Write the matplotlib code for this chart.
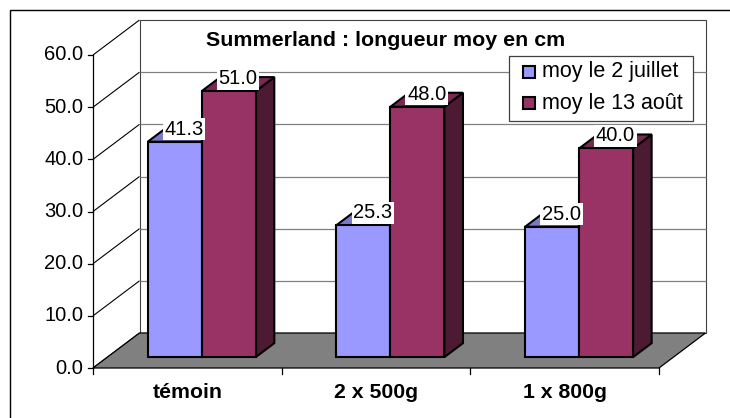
import matplotlib
matplotlib.use('Agg')
import matplotlib.pyplot as plt
from matplotlib.patches import Polygon, Rectangle

# donnees
categories = ['témoin', '2 x 500g', '1 x 800g']
series_names = ['moy le 2 juillet', 'moy le 13 août']
moy_juillet = [41.3, 25.3, 25.0]
moy_aout = [51.0, 48.0, 40.0]
y_ticks = [0, 10, 20, 30, 40, 50, 60]
title = 'Summerland : longueur moy en cm'

plt.rcParams['font.family'] = ['Liberation Sans', 'DejaVu Sans']

W, H = 730, 418
fig = plt.figure(figsize=(W / 100, H / 100), dpi=100)
ax = fig.add_axes([0, 0, 1, 1])
ax.axis('off')

# plan avant en pixels
x0_px, x1_px = 93, 659
y0_px, ytop_px = 368, 55
n = len(categories)
vmax = y_ticks[-1]
px_cat = (x1_px - x0_px) / n
px_val = (y0_px - ytop_px) / vmax
ax.set_xlim(-x0_px / px_cat, (W - x0_px) / px_cat)
ax.set_ylim(-(H - y0_px) / px_val, y0_px / px_val)

# profondeur (effet 3D)
DX = 46.5 / px_cat
DY = 35.0 / px_val


def P(x, y, d):
    return (x + d * DX, y + d * DY)


def poly(pts, fc, ec='black', lw=1.0, z=1):
    ax.add_patch(Polygon(pts, closed=True, facecolor=fc, edgecolor=ec,
                         linewidth=lw, joinstyle='miter', zorder=z))


def line(a, b, color='black', lw=0.8, z=2):
    ax.plot([a[0], b[0]], [a[1], b[1]], color=color, lw=lw, zorder=z,
            solid_capstyle='butt')


# mur du fond
poly([P(0, 0, 1), P(n, 0, 1), P(n, vmax, 1), P(0, vmax, 1)], 'white',
     ec='#404040', lw=0.8, z=1)
for v in y_ticks[1:-1]:
    line(P(0, v, 1), P(n, v, 1), color='#808080', lw=0.9, z=2)

# mur de gauche
for v in y_ticks:
    line(P(0, v, 0), P(0, v, 1), color='black', lw=0.8, z=2)
line(P(0, 0, 0), P(0, vmax, 0), color='black', lw=0.9, z=3)
for v in y_ticks:
    ax.plot([0, -5 / px_cat], [v, v], color='black', lw=0.9, zorder=3)
    ax.annotate(f'{v:.1f}', xy=(0, v), xytext=(-7, 0), textcoords='offset points',
                ha='right', va='center', fontsize=14.5, zorder=5)

# sol
poly([P(0, 0, 0), P(n, 0, 0), P(n, 0, 1), P(0, 0, 1)], '#808080',
     ec='black', lw=0.9, z=3)
for i in range(n + 1):
    ax.plot([i, i], [0, -6 / px_val], color='black', lw=0.9, zorder=3)

# barres
d0, d1 = 0.31, 0.71
bw = 0.286
gap = (1 - 2 * bw) / 2
couleurs = [('#9999FF', '#7A7ACC', '#4D4D80'),
            ('#993366', '#7A2952', '#4D1A33')]
labels = []
for i in range(n):
    for s, vals in enumerate([moy_juillet, moy_aout]):
        h = vals[i]
        xl = i + gap + s * bw
        xr = xl + bw
        front, top, side = couleurs[s]
        z = 10 + i * 2 + s
        poly([P(xr, 0, d0), P(xr, 0, d1), P(xr, h, d1), P(xr, h, d0)], side, lw=1.5, z=z)
        poly([P(xl, h, d0), P(xr, h, d0), P(xr, h, d1), P(xl, h, d1)], top, lw=1.5, z=z)
        poly([P(xl, 0, d0), P(xr, 0, d0), P(xr, h, d0), P(xl, h, d0)], front, lw=1.5, z=z)
        labels.append((xl + bw / 2, h))

for xc, h in labels:
    ax.annotate(f'{h:.1f}', xy=P(xc, h, (d0 + d1) / 2), xytext=(0, 0),
                textcoords='offset points', ha='center', va='baseline',
                fontsize=14.5, zorder=30,
                bbox=dict(boxstyle='square,pad=0.08', facecolor='white',
                          edgecolor='none'))

# etiquettes des categories
for i, c in enumerate(categories):
    ax.annotate(c, xy=(i + 0.5, 0), xytext=(0, -17.5), textcoords='offset points',
                ha='center', va='center', fontsize=15.3, fontweight='bold', zorder=5)

# titre
fig.text(386 / W, 1 - 41 / H, title, ha='center', va='center',
         fontsize=15.4, fontweight='bold')

# legende (dessinee a la main, comme dans Excel)
lx0, ly0, lx1, ly1 = 509, 56, 693, 121
fig.add_artist(Rectangle((lx0 / W, 1 - ly1 / H), (lx1 - lx0) / W, (ly1 - ly0) / H,
                         transform=fig.transFigure, facecolor='white',
                         edgecolor='#404040', linewidth=0.9, zorder=40))
for k, nom in enumerate(series_names):
    yc = 72 + k * 31
    fig.add_artist(Rectangle((523 / W, 1 - (yc + 6) / H), 12 / W, 12 / H,
                             transform=fig.transFigure, facecolor=couleurs[k][0],
                             edgecolor='black', linewidth=1.5, zorder=41))
    fig.text(542 / W, 1 - yc / H, nom, ha='left', va='center',
             fontsize=15.5, zorder=42)

# cadre exterieur
fig.add_artist(Rectangle((10 / W, -0.1), 1.2, 1 - 10 / H + 0.1,
                         transform=fig.transFigure, fill=False,
                         edgecolor='black', linewidth=1.0))

fig.savefig('out.png', dpi=100)
